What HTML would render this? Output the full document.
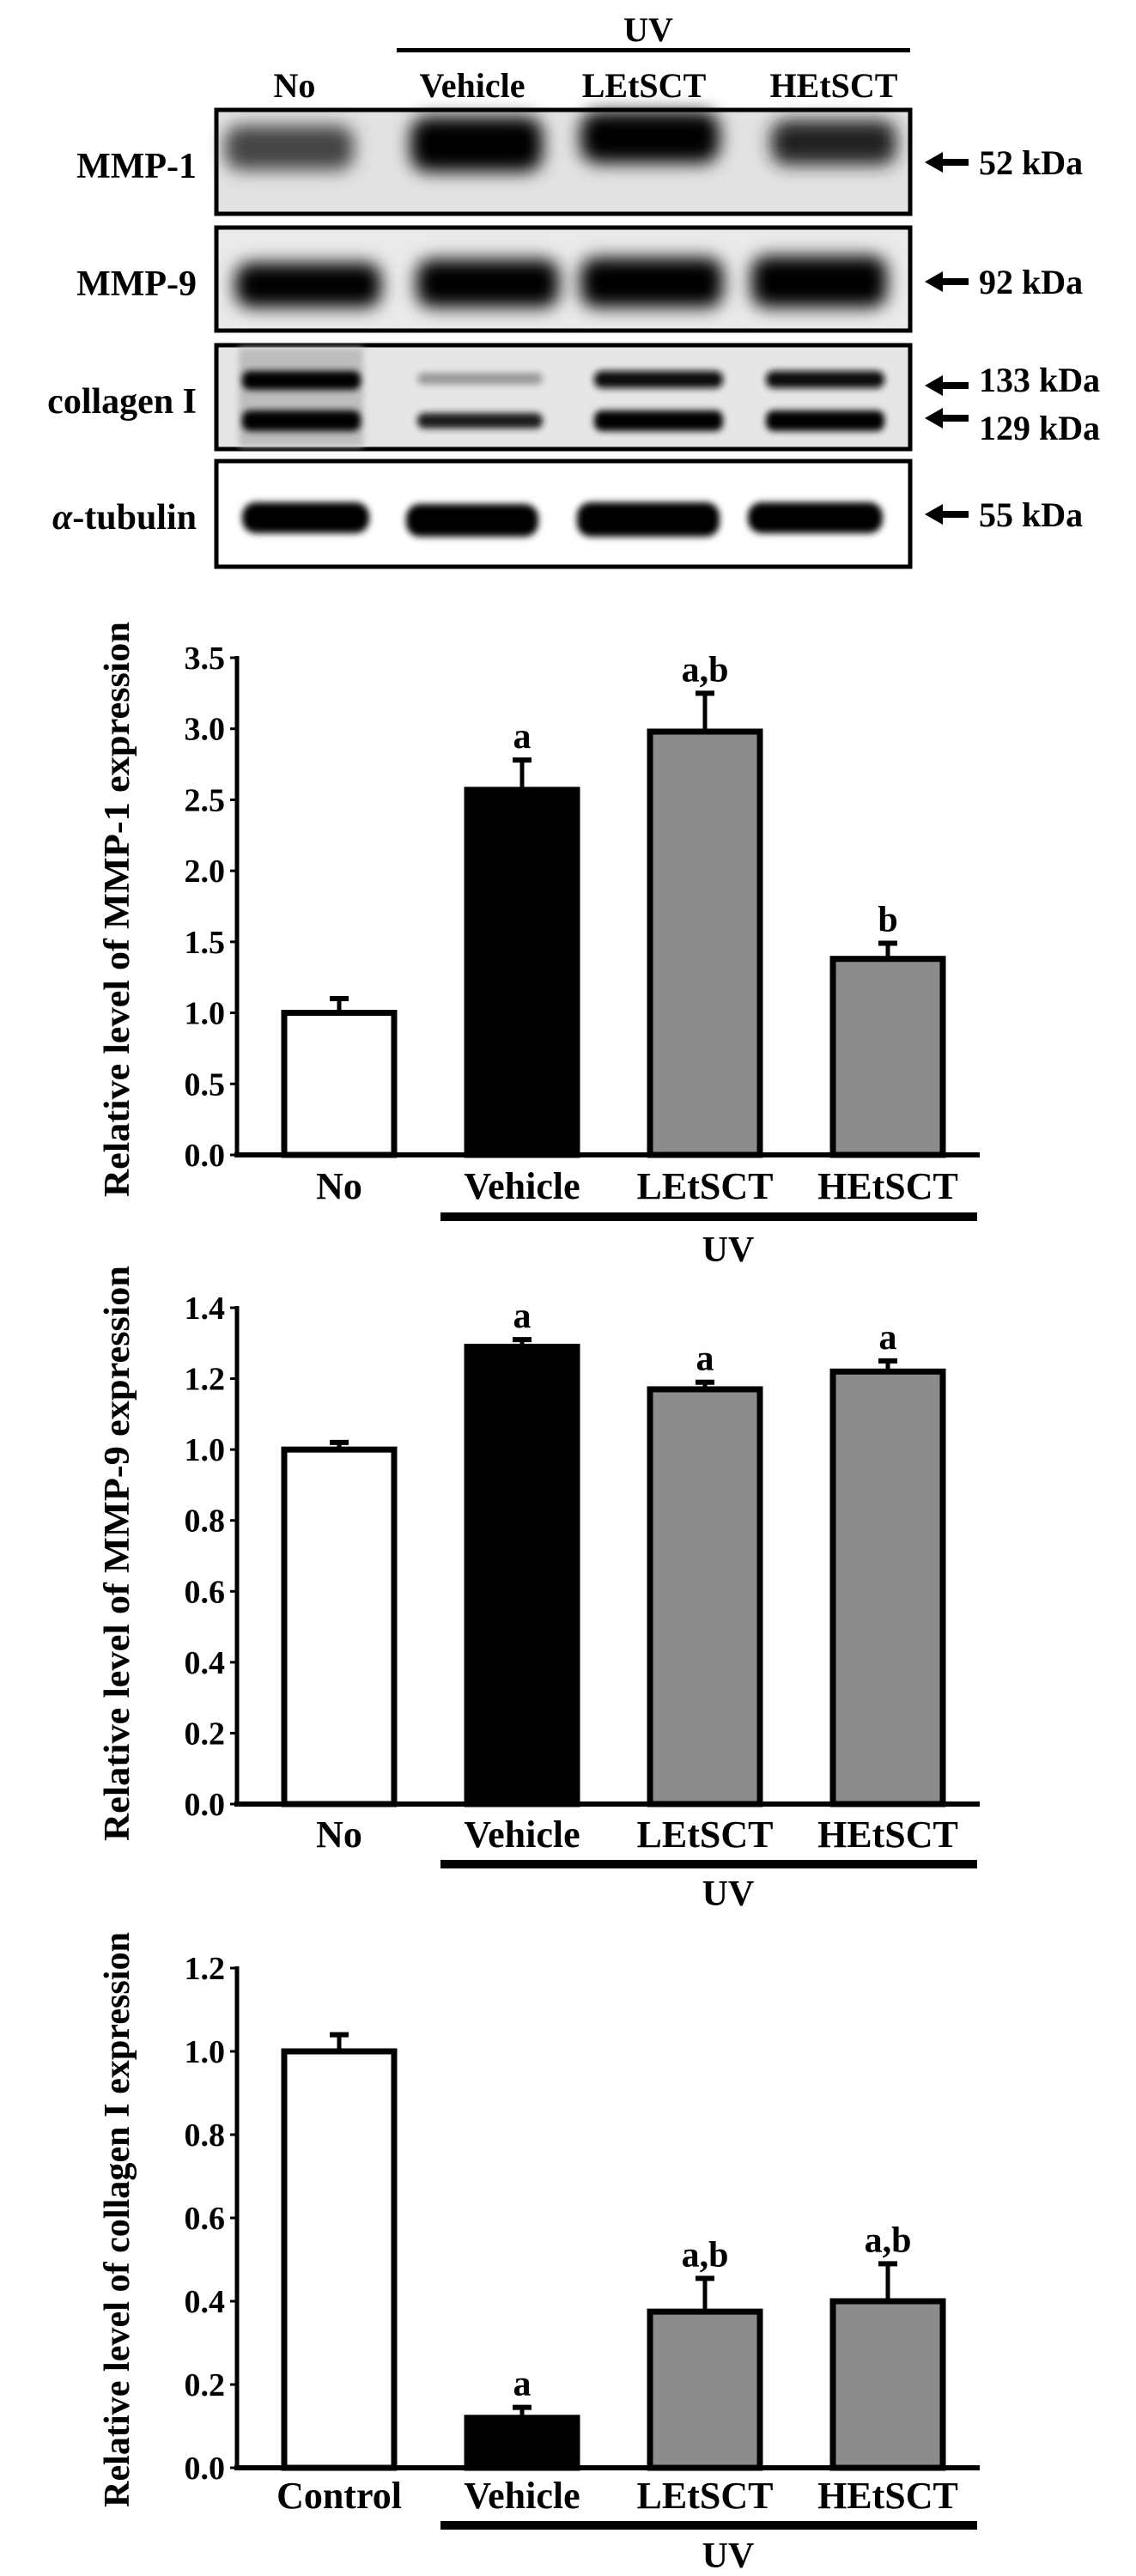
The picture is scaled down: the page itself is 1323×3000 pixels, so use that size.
<!DOCTYPE html>
<html><head><meta charset="utf-8"><title>MMP-1, MMP-9 and collagen I western blots and bar charts</title>
<style>
html,body{margin:0;padding:0;background:#fff;}
svg{display:block;font-family:"Liberation Serif",serif;font-weight:bold;}
</style></head>
<body>
<svg id="fig" width="1323" height="3000" viewBox="0 0 1323 3000" xmlns="http://www.w3.org/2000/svg">
<defs>
<filter id="blur" x="-30%" y="-80%" width="160%" height="260%"><feGaussianBlur stdDeviation="10"/></filter>
<filter id="blur2" x="-30%" y="-60%" width="160%" height="220%"><feGaussianBlur stdDeviation="4"/></filter>
</defs>

<!-- Blot header -->
<g>
<text x="755" y="48" font-size="40" text-anchor="middle">UV</text>
<rect x="462" y="56" width="598" height="5" fill="#000"/>
<text x="343" y="113" font-size="40" text-anchor="middle">No</text>
<text x="550" y="113" font-size="40" text-anchor="middle">Vehicle</text>
<text x="750" y="113" font-size="40" text-anchor="middle">LEtSCT</text>
<text x="971" y="113" font-size="40" text-anchor="middle">HEtSCT</text>
</g>

<!-- Blot 1 MMP-1 -->
<g>
<rect x="252" y="128" width="808" height="121" fill="#e2e2e2" stroke="#000" stroke-width="5"/>
<g filter="url(#blur)">
<rect x="262" y="146" width="150" height="52" rx="18" fill="#444"/>
<rect x="478" y="136" width="154" height="64" rx="20" fill="#000"/>
<rect x="676" y="130" width="162" height="60" rx="20" fill="#000"/>
<rect x="898" y="140" width="146" height="52" rx="18" fill="#222"/>
</g>
<text x="229" y="207" font-size="42" text-anchor="end">MMP-1</text>
</g>

<!-- Blot 2 MMP-9 -->
<g>
<rect x="252" y="265" width="808" height="120" fill="#eaeaea" stroke="#000" stroke-width="5"/>
<g filter="url(#blur)">
<rect x="274" y="306" width="170" height="52" rx="18" fill="#000"/>
<rect x="485" y="302" width="166" height="56" rx="18" fill="#000"/>
<rect x="676" y="300" width="166" height="58" rx="18" fill="#000"/>
<rect x="875" y="298" width="158" height="60" rx="18" fill="#000"/>
</g>
<text x="229" y="344" font-size="42" text-anchor="end">MMP-9</text>
</g>

<!-- Blot 3 collagen I -->
<g>
<rect x="252" y="402" width="808" height="121" fill="#e6e6e6" stroke="#000" stroke-width="5"/>
<rect x="278" y="405" width="145" height="115" fill="#bdbdbd" filter="url(#blur2)"/>
<g filter="url(#blur2)">
<rect x="282" y="432" width="138" height="22" rx="9" fill="#000"/>
<rect x="282" y="478" width="138" height="24" rx="9" fill="#000"/>
<rect x="486" y="434" width="146" height="14" rx="7" fill="#9a9a9a"/>
<rect x="486" y="481" width="146" height="18" rx="8" fill="#1a1a1a"/>
<rect x="692" y="432" width="150" height="20" rx="9" fill="#111"/>
<rect x="692" y="478" width="150" height="24" rx="9" fill="#000"/>
<rect x="892" y="432" width="138" height="20" rx="9" fill="#111"/>
<rect x="892" y="478" width="138" height="24" rx="9" fill="#000"/>
</g>
<text x="229" y="481" font-size="42" text-anchor="end">collagen I</text>
</g>

<!-- Blot 4 alpha-tubulin -->
<g>
<rect x="252" y="537" width="808" height="123" fill="#fff" stroke="#000" stroke-width="5"/>
<g filter="url(#blur2)">
<rect x="282" y="585" width="148" height="36" rx="16" fill="#000"/>
<rect x="473" y="587" width="154" height="38" rx="16" fill="#000"/>
<rect x="672" y="585" width="166" height="40" rx="16" fill="#000"/>
<rect x="871" y="585" width="157" height="36" rx="16" fill="#000"/>
</g>
<text x="229" y="616" font-size="42" text-anchor="end"><tspan font-style="italic">α</tspan>-tubulin</text>
</g>

<!-- kDa markers -->
<g>
<g><path d="M1077 189 L1098 177 L1098 185 L1128 185 L1128 193 L1098 193 L1098 201 Z" fill="#000"/><text x="1140" y="203" font-size="40">52 kDa</text></g>
<g><path d="M1077 328 L1098 316 L1098 324 L1128 324 L1128 332 L1098 332 L1098 340 Z" fill="#000"/><text x="1140" y="342" font-size="40">92 kDa</text></g>
<g><path d="M1077 449 L1098 437 L1098 445 L1128 445 L1128 453 L1098 453 L1098 461 Z" fill="#000"/><text x="1140" y="456" font-size="40">133 kDa</text></g>
<g><path d="M1077 487 L1098 475 L1098 483 L1128 483 L1128 491 L1098 491 L1098 499 Z" fill="#000"/><text x="1140" y="512" font-size="40">129 kDa</text></g>
<g><path d="M1077 599 L1098 587 L1098 595 L1128 595 L1128 603 L1098 603 L1098 611 Z" fill="#000"/><text x="1140" y="613" font-size="40">55 kDa</text></g>
</g>
</svg>

<script>
// ---- Chart data ----
const mmp1Categories = ["No", "Vehicle", "LEtSCT", "HEtSCT"];
const mmp1Values = [1.0, 2.57, 2.98, 1.38];
const mmp1ErrorTops = [1.1, 2.78, 3.25, 1.49];
const mmp1Annotations = ["", "a", "a,b", "b"];
const mmp1Ticks = ["0.0", "0.5", "1.0", "1.5", "2.0", "2.5", "3.0", "3.5"];

const mmp9Categories = ["No", "Vehicle", "LEtSCT", "HEtSCT"];
const mmp9Values = [1.0, 1.29, 1.17, 1.22];
const mmp9ErrorTops = [1.02, 1.31, 1.19, 1.25];
const mmp9Annotations = ["", "a", "a", "a"];
const mmp9Ticks = ["0.0", "0.2", "0.4", "0.6", "0.8", "1.0", "1.2", "1.4"];

const colCategories = ["Control", "Vehicle", "LEtSCT", "HEtSCT"];
const colValues = [1.0, 0.12, 0.375, 0.40];
const colErrorTops = [1.04, 0.145, 0.455, 0.49];
const colAnnotations = ["", "a", "a,b", "a,b"];
const colTicks = ["0.0", "0.2", "0.4", "0.6", "0.8", "1.0", "1.2"];

const NS = "http://www.w3.org/2000/svg";
const svg = document.getElementById("fig");
const fills = ["#ffffff", "#000000", "#8c8c8c", "#8c8c8c"];

function mk(tag, attrs, parent) {
  const e = document.createElementNS(NS, tag);
  for (const k in attrs) e.setAttribute(k, attrs[k]);
  parent.appendChild(e);
  return e;
}

function drawChart(name, cats, vals, errs, ann, ticks, yTop, yBottom, title, titleY, catY, uvBarY, uvTextY) {
  const g = mk("g", {}, svg);
  
  
  const maxV = parseFloat(ticks[ticks.length - 1]);
  const y = v => yBottom - (v / maxV) * (yBottom - yTop);
  const axisX = 276;
  const x0 = 395, step = 213, bw = 128;
  const xc = i => x0 + i * step;

  const ya = mk("line", {x1: axisX, y1: yTop - 2, x2: axisX, y2: yBottom + 3, stroke: "#000", "stroke-width": 5}, g);
  
  
  ticks.forEach(t => {
    const v = parseFloat(t);
    const tk = mk("line", {x1: axisX - 8, y1: y(v), x2: axisX, y2: y(v), stroke: "#000", "stroke-width": 3}, g);
    
    
    const tl = mk("text", {x: axisX - 14, y: y(v) + 13, "font-size": 38, "text-anchor": "end"}, g);
    tl.textContent = t;
    
    
  });

  cats.forEach((c, i) => {
    const bt = y(vals[i]);
    const bar = mk("rect", {x: xc(i) - bw / 2, y: bt, width: bw, height: yBottom - bt, fill: fills[i], stroke: "#000", "stroke-width": 7}, g);
    
    
    const et = y(errs[i]);
    const eb = mk("line", {x1: xc(i), y1: bt, x2: xc(i), y2: et, stroke: "#000", "stroke-width": 5}, g);
    
    
    const cap = mk("line", {x1: xc(i) - 11, y1: et, x2: xc(i) + 11, y2: et, stroke: "#000", "stroke-width": 6}, g);
    
    
    if (ann[i]) {
      const at = mk("text", {x: xc(i), y: et - 14, "font-size": 42, "text-anchor": "middle"}, g);
      at.textContent = ann[i];
      
      
    }
    const cl = mk("text", {x: xc(i), y: catY + 16, "font-size": 44, "text-anchor": "middle"}, g);
    cl.textContent = c;
    
    
  });

  const xa = mk("line", {x1: axisX - 3, y1: yBottom, x2: 1141, y2: yBottom, stroke: "#000", "stroke-width": 6}, g);
  
  

  const ub = mk("rect", {x: 513, y: uvBarY - 5, width: 625, height: 10, fill: "#000"}, g);
  
  
  const ut = mk("text", {x: 848, y: uvTextY + 15, "font-size": 42, "text-anchor": "middle"}, g);
  ut.textContent = "UV";
  
  

  const tt = mk("text", {x: 0, y: 0, "font-size": 42, "text-anchor": "middle", transform: "translate(150," + titleY + ") rotate(-90)", textLength: 670, lengthAdjust: "spacingAndGlyphs"}, g);
  tt.textContent = title;
  
  
}

drawChart("chart-mmp1", mmp1Categories, mmp1Values, mmp1ErrorTops, mmp1Annotations, mmp1Ticks, 766, 1345, "Relative level of MMP-1 expression", 1059, 1380, 1417, 1454);
drawChart("chart-mmp9", mmp9Categories, mmp9Values, mmp9ErrorTops, mmp9Annotations, mmp9Ticks, 1523, 2101, "Relative level of MMP-9 expression", 1809, 2135, 2171, 2204);
drawChart("chart-collagen", colCategories, colValues, colErrorTops, colAnnotations, colTicks, 2292, 2874, "Relative level of  collagen I expression", 2585, 2905, 2941, 2975);
</script>
</body></html>
